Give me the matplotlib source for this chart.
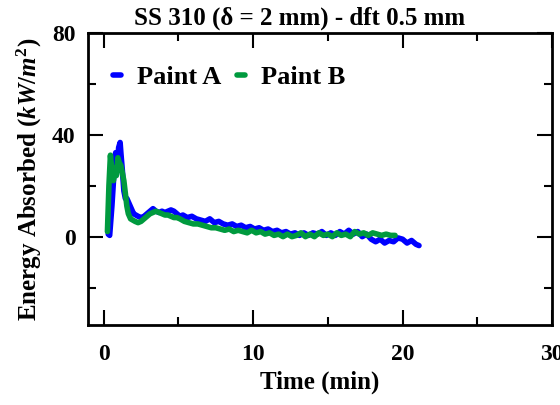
import matplotlib
matplotlib.use("Agg")
import matplotlib.pyplot as plt
from matplotlib.ticker import MultipleLocator

plt.rcParams['font.family'] = ['Liberation Serif', 'DejaVu Serif']
plt.rcParams['font.weight'] = 'bold'
plt.rcParams['mathtext.fontset'] = 'custom'
plt.rcParams['mathtext.rm'] = 'Liberation Serif:bold'
plt.rcParams['mathtext.it'] = 'Liberation Serif:bold:italic'
plt.rcParams['mathtext.bf'] = 'Liberation Serif:bold'

title = "SS 310 (\u03b4 = 2 mm) - dft 0.5 mm"
xlabel = "Time (min)"
ylabel = r"Energy Absorbed ($kW/m^2$)"
series_names = ["Paint A", "Paint B"]
series_colors = ["#0000ff", "#009a3e"]

time_a = [0.30, 0.40, 0.55, 0.70, 0.80, 0.90, 1.00, 1.10, 1.15, 1.25, 1.35, 1.45,
          1.55, 1.70, 1.85, 2.00, 2.15, 2.30, 2.50, 2.70, 2.90, 3.10, 3.30, 3.50,
          3.70, 3.90, 4.10, 4.30, 4.50, 4.70, 4.90, 5.10, 5.30, 5.60, 5.90, 6.20,
          6.50, 6.80, 7.10, 7.40, 7.70, 8.00, 8.30, 8.60, 8.90, 9.20, 9.50, 9.80,
          10.1, 10.4, 10.7, 11.0, 11.3, 11.6, 11.9, 12.2, 12.5, 12.8, 13.1, 13.4,
          13.7, 14.0, 14.3, 14.6, 14.9, 15.2, 15.5, 15.8, 16.1, 16.4, 16.7, 17.0,
          17.3, 17.6, 17.9, 18.2, 18.5, 18.8, 19.1, 19.4, 19.7, 20.0, 20.3, 20.6,
          20.9, 21.1]
energy_a = [1, 0.5, 12, 26, 33, 28, 35, 37, 33, 26, 18, 15,
            15, 13, 11, 9, 8.5, 8, 7.5, 8, 9, 10, 11, 10,
            9.5, 10, 9.5, 10, 10.5, 10, 9, 8, 8.5, 7.5, 8, 7,
            6.5, 6, 7, 5.5, 6, 5, 4.5, 5, 4, 4.5, 3.5, 4,
            3, 3.5, 2.5, 3, 2, 2.5, 1.5, 2, 1, 1.5, 0.5, 1.5,
            0.5, 1.5, 1, 2, 0.5, 1.5, 0.5, 2, 1, 2.5, 1, 2,
            0, 1, -1, -2, -1, -2.5, -1.5, -2, -0.5, -1, -2.5, -1.5,
            -3, -3.5]

time_b = [0.25, 0.35, 0.45, 0.55, 0.65, 0.75, 0.85, 0.95, 1.05, 1.15, 1.25, 1.35,
          1.45, 1.55, 1.65, 1.80, 1.95, 2.10, 2.30, 2.50, 2.70, 2.90, 3.10, 3.30,
          3.50, 3.70, 3.90, 4.10, 4.30, 4.50, 4.70, 4.90, 5.10, 5.40, 5.70, 6.00,
          6.30, 6.60, 6.90, 7.20, 7.50, 7.80, 8.10, 8.40, 8.70, 9.00, 9.30, 9.60,
          9.90, 10.2, 10.5, 10.8, 11.1, 11.4, 11.7, 12.0, 12.3, 12.6, 12.9, 13.2,
          13.5, 13.8, 14.1, 14.4, 14.7, 15.0, 15.3, 15.6, 15.9, 16.2, 16.5, 16.8,
          17.1, 17.4, 17.7, 18.0, 18.3, 18.6, 18.9, 19.2, 19.5]
energy_b = [2, 20, 32, 26, 22, 27, 24, 31, 29, 28, 25, 22,
            17, 12, 9, 7, 6.5, 6, 5.5, 6, 7, 8, 9, 9.5,
            10, 9.5, 9, 8.5, 8.5, 8, 7.5, 7.5, 7, 6, 5.5, 5,
            5, 4.5, 4, 3.5, 3.5, 3, 2.5, 3, 2, 2.5, 2, 1.5,
            2.5, 1.5, 2, 1, 1.5, 0.5, 1, 0, 1, 0, 0.5, 1.5,
            0, 1, 0, 1.5, 0.5, 1, 0, 1.5, 0.5, 1, 0, 2,
            1, 1.5, 0.5, 1.5, 1, 0.5, 1, 0.5, 0.5]

xticks = [0, 10, 20, 30]
yticks = [0, 40, 80]

fig = plt.figure(figsize=(5.6, 4.05), dpi=100)
ax = fig.add_axes([88/560, 1-325/405, (552-88)/560, (325-33)/405])

ax.plot(time_a, energy_a, color=series_colors[0], lw=4, label=series_names[0],
        solid_joinstyle='round', solid_capstyle='round')
ax.plot(time_b, energy_b, color=series_colors[1], lw=4, label=series_names[1],
        solid_joinstyle='round', solid_capstyle='round')

ax.set_xticks(xticks)
ax.set_yticks(yticks)
ax.xaxis.set_minor_locator(MultipleLocator(5))
ax.yaxis.set_minor_locator(MultipleLocator(20))
ax.set_xlim(-1.05, 30)
ax.set_ylim(-34.7, 80)
ax.tick_params(which='both', direction='in', top=True, right=True, width=1.5)
ax.tick_params(which='major', length=11, labelsize=17, pad=9)
ax.tick_params(axis='x', which='major', pad=14)
ax.tick_params(which='minor', length=6)
for s in ax.spines.values():
    s.set_linewidth(2)

fig.text(300/560, 1-18/405, title, fontsize=18, fontweight='bold',
         ha='center', va='center')
ax.set_xlabel(xlabel, fontsize=18, fontweight='bold', labelpad=4)
ax.set_ylabel(ylabel, fontsize=18, fontweight='bold', labelpad=6)

leg = ax.legend(loc='upper left', ncol=2, frameon=False, fontsize=19,
                handlelength=0.3, handletextpad=0.6, columnspacing=0.6,
                bbox_to_anchor=(0.003, 0.97))

fig.savefig("out.png", dpi=100)
